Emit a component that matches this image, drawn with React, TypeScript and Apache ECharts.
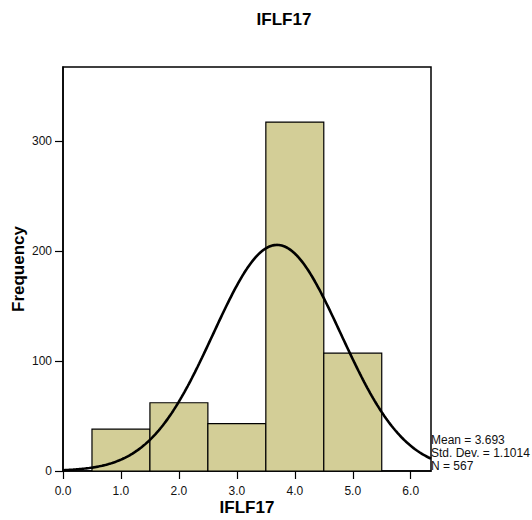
import React, { useEffect, useRef } from "react";
import * as echarts from "echarts";

const BIN_START = [0.5, 1.5, 2.5, 3.5, 4.5];
const BIN_END = [1.5, 2.5, 3.5, 4.5, 5.5];
const COUNTS = [38, 62, 43, 317, 107];
const X_TICKS = [0, 1, 2, 3, 4, 5, 6];
const Y_TICKS = [0, 100, 200, 300];
const MEAN = 3.693;
const SD = 1.1014;
const N = 567;
const BIN_WIDTH = 1;
const X_MAX = 6.35;
const Y_MAX = 367;

function normalCurve(): number[][] {
  const pts: number[][] = [];
  const steps = 254;
  for (let i = 0; i <= steps; i++) {
    const x = (X_MAX * i) / steps;
    const z = (x - MEAN) / SD;
    const y = (N * BIN_WIDTH * Math.exp(-0.5 * z * z)) / (SD * Math.sqrt(2 * Math.PI));
    pts.push([x, y]);
  }
  return pts;
}

export default function App() {
  const ref = useRef<HTMLDivElement>(null);
  useEffect(() => {
    if (!ref.current) return;
    const chart = echarts.init(ref.current, null, { renderer: "svg" });
    const font = "'Liberation Sans', Arial, sans-serif";
    const binData = BIN_START.map((s, i) => [s, BIN_END[i], COUNTS[i]]);
    chart.setOption({
      animation: false,
      backgroundColor: "#fff",
      grid: {
        left: 63,
        top: 67,
        width: 368,
        height: 404,
        outerBoundsMode: "none",
        containLabel: false,
        show: true,
        borderColor: "#000",
        borderWidth: 1.5,
        backgroundColor: "transparent",
      },
      xAxis: {
        type: "value",
        min: 0,
        max: X_MAX,
        interval: 1,
        name: "IFLF17",
        nameLocation: "middle",
        nameGap: 28,
        nameMoveOverlap: false,
        nameTextStyle: { fontFamily: font, fontWeight: "bold", fontSize: 17, color: "#000" },
        splitLine: { show: false },
        axisLine: { show: true, lineStyle: { color: "#000", width: 1.5 } },
        axisTick: { show: true, length: 8, customValues: X_TICKS, lineStyle: { color: "#000", width: 1.2 } },
        axisLabel: {
          customValues: X_TICKS,
          formatter: (v: number) => v.toFixed(1),
          fontFamily: font,
          fontSize: 12,
          color: "#111",
          margin: 14,
        },
      },
      yAxis: {
        type: "value",
        min: 0,
        max: Y_MAX,
        interval: 100,
        name: "Frequency",
        nameLocation: "middle",
        nameGap: 36,
        nameMoveOverlap: false,
        nameTextStyle: { fontFamily: font, fontWeight: "bold", fontSize: 17, color: "#000" },
        splitLine: { show: false },
        axisLine: { show: true, lineStyle: { color: "#000", width: 1.5 } },
        axisTick: { show: true, length: 8, customValues: Y_TICKS, lineStyle: { color: "#000", width: 1.2 } },
        axisLabel: {
          customValues: Y_TICKS,
          fontFamily: font,
          fontSize: 12,
          color: "#111",
          margin: 11,
        },
      },
      series: [
        {
          type: "custom",
          data: binData,
          encode: { x: [0, 1], y: 2 },
          renderItem: (params: any, api: any) => {
            const p0 = api.coord([api.value(0), api.value(2)]);
            const p1 = api.coord([api.value(1), 0]);
            return {
              type: "rect",
              shape: { x: p0[0], y: p0[1], width: p1[0] - p0[0], height: p1[1] - p0[1] },
              style: { fill: "#d3ce97", stroke: "#000", lineWidth: 1.2 },
            };
          },
          z: 2,
        },
        {
          type: "line",
          data: normalCurve(),
          showSymbol: false,
          symbol: "none",
          smooth: false,
          lineStyle: { color: "#000", width: 2.6 },
          clip: true,
          z: 3,
        },
      ],
      graphic: [
        {
          type: "text",
          x: 284,
          y: 19,
          style: {
            text: "IFLF17",
            fontFamily: font,
            fontWeight: "bold",
            fontSize: 17,
            fill: "#000",
            textAlign: "center",
            textVerticalAlign: "middle",
          },
        },
        {
          type: "text",
          x: 431,
          y: 453,
          style: {
            text: "Mean = " + MEAN.toFixed(3) + "\nStd. Dev. = " + SD.toFixed(4) + "\nN = " + N,
            fontFamily: font,
            fontSize: 12,
            lineHeight: 13,
            fill: "#111",
            textAlign: "left",
            textVerticalAlign: "middle",
          },
        },
      ],
    });
    return () => chart.dispose();
  }, []);
  return (
    <div
      ref={ref}
      style={{ position: "fixed", left: 0, top: 0, width: 532, height: 520 }}
    />
  );
}
